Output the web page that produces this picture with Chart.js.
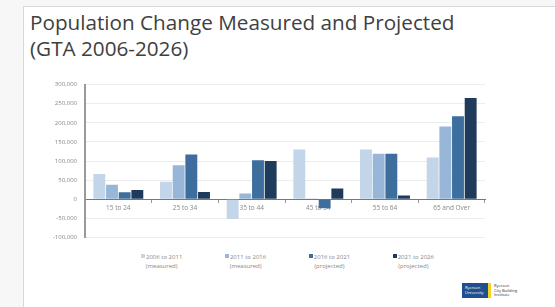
<!DOCTYPE html>
<html>
<head>
<meta charset="utf-8">
<script src="https://cdn.jsdelivr.net/npm/chart.js@4.4.1/dist/chart.umd.min.js"></script>
<style>
  body { margin: 0; width: 555px; height: 307px; background: #f7f7f7; overflow: hidden; position: relative; font-family: "Open Sans", sans-serif; }
  #slide { position: absolute; left: 23px; top: 6px; width: 540px; height: 310px; background: #fff; border-left: 1px solid #d8d8d8; border-top: 1px solid #d8d8d8; }
  #title { position: absolute; left: 30px; top: 9px; font-size: 20.7px; line-height: 26px; color: #404040; white-space: nowrap; }
  #chartBox { position: absolute; left: 20px; top: 73px; width: 470px; height: 176px; }
  #legend { position: absolute; top: 253px; left: 141px; width: 293px; display: flex; justify-content: space-between; font-size: 6px; color: #888; }
  .item { text-align: center; line-height: 9px; }
  .sw { display: inline-block; width: 4px; height: 4px; margin-right: 1px; vertical-align: 1px; }
  #logo { position: absolute; left: 462px; top: 283px; height: 15px; display: flex; }
  #logo .blue { background: #1f4f8f; color: #fff; font-size: 4px; line-height: 5px; padding: 2px 3px; width: 20px; }
  #logo .yel { background: #f5d21b; width: 3px; }
  #logo .txt { font-size: 4px; line-height: 4.5px; color: #333; padding-left: 3px; padding-top: 1px; }
</style>
</head>
<body>
<div id="slide"></div>
<div id="title">Population Change Measured and Projected<br>(GTA 2006-2026)</div>
<div id="chartBox"><canvas id="chart"></canvas></div>
<div id="legend"></div>
<div id="logo"><div class="blue">Ryerson<br>University</div><div class="yel"></div><div class="txt">Ryerson<br>City Building<br>Institute</div></div>
<script>
// categories and series
const ageGroups = ['15 to 24', '25 to 34', '35 to 44', '45 to 54', '55 to 64', '65 and Over'];
const seriesNames = ['2006 to 2011', '2011 to 2016', '2016 to 2021', '2021 to 2026'];
const seriesNotes = ['(measured)', '(measured)', '(projected)', '(projected)'];
const change0611 = [66000, 46000, -52000, 130000, 130000, 109000];
const change1116 = [38000, 89000, 15000, 2000, 119000, 190000];
const change1621 = [18000, 117000, 102000, -24000, 119000, 217000];
const change2126 = [24000, 19000, 100000, 28000, 10000, 265000];
const barColors = ['#c3d5e9', '#98b6d8', '#3e6e9e', '#1f3b5b'];

const allSeries = [change0611, change1116, change1621, change2126];

const datasets = allSeries.map((vals, i) => ({
  label: seriesNames[i],
  data: vals,
  backgroundColor: barColors[i],
  categoryPercentage: 0.76,
  barPercentage: 0.94
}));

// legend in html, two line labels
const legend = document.getElementById('legend');
seriesNames.forEach((name, i) => {
  const d = document.createElement('div');
  d.className = 'item';
  d.innerHTML = '<span class="sw" style="background:' + barColors[i] + '"></span>' + name + '<br>' + seriesNotes[i];
  legend.appendChild(d);
});

const ctx = document.getElementById('chart').getContext('2d');
new Chart(ctx, {
  type: 'bar',
  data: { labels: ageGroups, datasets: datasets },
  options: {
    responsive: true,
    maintainAspectRatio: false,
    animation: false,
    layout: { padding: { top: 6, right: 5, bottom: 6 } },
    plugins: { legend: { display: false }, tooltip: { enabled: false } },
    scales: {
      x: {
        position: { y: 0 },
        grid: { drawOnChartArea: false, tickLength: 3, color: '#999' },
        border: { color: '#777', width: 1 },
        ticks: { color: '#888', font: { family: 'Open Sans', size: 6.5 }, padding: 2 }
      },
      y: {
        min: -100000,
        max: 300000,
        afterFit: s => { s.width = 65; },
        grid: { color: '#ececec', drawTicks: false },
        border: { color: '#999', width: 2 },
        ticks: {
          stepSize: 50000,
          padding: 8,
          color: '#888',
          font: { family: 'Open Sans', size: 6 },
          callback: v => v.toLocaleString('en-US')
        }
      }
    }
  }
});
</script>
</body>
</html>
